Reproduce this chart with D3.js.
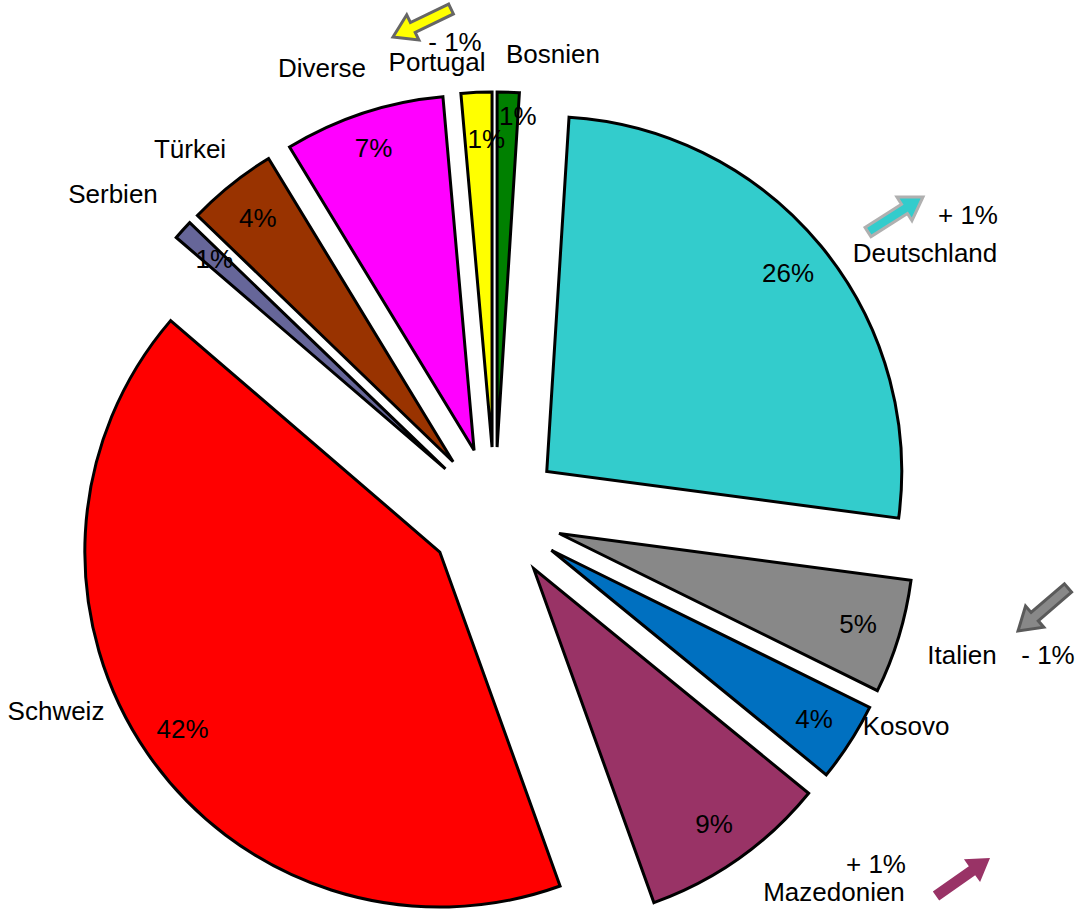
<!DOCTYPE html>
<html>
<head>
<meta charset="utf-8">
<script src="https://cdn.jsdelivr.net/npm/d3@7"></script>
<style>
  body { margin: 0; background: #fff; }
  svg text { font-family: "Liberation Sans", Arial, sans-serif; fill: #000; }
</style>
</head>
<body>
<div id="chart"></div>
<script>
// Anteile (Prozent), im Uhrzeigersinn ab 12 Uhr
var categories = ["Bosnien", "Deutschland", "Italien", "Kosovo", "Mazedonien",
                  "Schweiz", "Serbien", "Türkei", "Diverse", "Portugal"];
var values = [1.0, 26.1, 5.2, 3.6, 8.6, 41.8, 0.9, 4.1, 7.3, 1.4];
var colors = ["#008000", "#33cccc", "#888888", "#0070c0", "#993366",
              "#ff0000", "#666699", "#993300", "#ff00ff", "#ffff00"];
var changes = ["", "+ 1%", "- 1%", "", "+ 1%", "", "", "", "", "- 1%"];

var width = 1079,
    height = 913;

var svg = d3.select('#chart')
            .append('svg')
            .attr('width', width)
            .attr('height', height);

var cx = 495, cy = 514,
    radius = 355,
    explode = 67,
    fontSize = 26;

var pie = d3.pie().sort(null).startAngle(0).value(function(d) { return d; });
var arc = d3.arc().innerRadius(0).outerRadius(radius);
var arcs = pie(values);

function dir(d) {
  var a = (d.startAngle + d.endAngle) / 2;
  return [Math.sin(a), -Math.cos(a)];
}

// kleine Verschiebungen der Prozentwerte bei den schmalen Stücken
var pctNudge = { "Bosnien": [11, -19], "Portugal": [8, 4], "Diverse": [-3, -6] };

var g = svg.append('g').attr('transform', 'translate(' + cx + ',' + cy + ')');

var slices = g.selectAll('.slice')
  .data(arcs)
  .enter()
  .append('g')
  .attr('class', 'slice')
  .attr('transform', function(d) {
    var u = dir(d);
    return 'translate(' + (u[0] * explode) + ',' + (u[1] * explode) + ')';
  });

slices.append('path')
  .attr('d', arc)
  .style('fill', function(d, i) { return colors[i]; })
  .style('stroke', '#000')
  .style('stroke-width', 3)
  .style('stroke-linejoin', 'miter');

// Prozent-Beschriftung innerhalb der Stücke
slices.append('text')
  .attr('x', function(d, i) {
    var n = pctNudge[categories[i]] || [0, 0];
    return dir(d)[0] * radius * 0.88 + n[0];
  })
  .attr('y', function(d, i) {
    var n = pctNudge[categories[i]] || [0, 0];
    return dir(d)[1] * radius * 0.88 + n[1];
  })
  .attr('text-anchor', 'middle')
  .attr('dominant-baseline', 'central')
  .style('font-size', fontSize + 'px')
  .text(function(d) { return Math.round(d.value) + '%'; });

// Kategorienamen (manuell platziert wie im Original)
var labelPos = {
  "Bosnien":     [553, 63],
  "Deutschland": [925, 262],
  "Italien":     [962, 664],
  "Kosovo":      [906, 735],
  "Mazedonien":  [834, 901],
  "Schweiz":     [56, 720],
  "Serbien":     [113, 203],
  "Türkei":      [190, 158],
  "Diverse":     [322, 77],
  "Portugal":    [437, 71]
};
var changePos = {
  "Deutschland": [968, 224],
  "Italien":     [1048, 664],
  "Mazedonien":  [876, 873],
  "Portugal":    [455, 51]
};

svg.selectAll('.cat')
  .data(categories)
  .enter()
  .append('text')
  .attr('class', 'cat')
  .attr('x', function(d) { return labelPos[d][0]; })
  .attr('y', function(d) { return labelPos[d][1]; })
  .attr('text-anchor', 'middle')
  .style('font-size', fontSize + 'px')
  .text(function(d) { return d; });

svg.selectAll('.chg')
  .data(categories.filter(function(d, i) { return changes[i] != ''; }))
  .enter()
  .append('text')
  .attr('class', 'chg')
  .attr('x', function(d) { return changePos[d][0]; })
  .attr('y', function(d) { return changePos[d][1]; })
  .attr('text-anchor', 'middle')
  .style('font-size', fontSize + 'px')
  .text(function(d) { return changes[categories.indexOf(d)]; });

// Blockpfeile für Veränderungen: [Schaft-Ende, Spitze]
var arrows = {
  "Deutschland": { from: [868, 232], to: [923, 197], stroke: "#b0b0b0" },
  "Italien":     { from: [1068, 588], to: [1018, 631], stroke: "#5a5a5a" },
  "Mazedonien":  { from: [936, 896], to: [990, 858], stroke: "none" },
  "Portugal":    { from: [451, 9], to: [393, 37], stroke: "#666666" }
};

function arrowPath(a) {
  var dx = a.to[0] - a.from[0], dy = a.to[1] - a.from[1];
  var len = Math.sqrt(dx * dx + dy * dy);
  var ux = dx / len, uy = dy / len, nx = -uy, ny = ux;
  var shaft = 5.5, head = 14, headLen = 22;
  var bx = a.to[0] - ux * headLen, by = a.to[1] - uy * headLen;
  var pts = [
    [a.from[0] + nx * shaft, a.from[1] + ny * shaft],
    [bx + nx * shaft, by + ny * shaft],
    [bx + nx * head, by + ny * head],
    a.to,
    [bx - nx * head, by - ny * head],
    [bx - nx * shaft, by - ny * shaft],
    [a.from[0] - nx * shaft, a.from[1] - ny * shaft]
  ];
  return d3.line()(pts) + 'Z';
}

svg.selectAll('.arrow')
  .data(Object.keys(arrows))
  .enter()
  .append('path')
  .attr('class', 'arrow')
  .attr('d', function(d) { return arrowPath(arrows[d]); })
  .style('fill', function(d) { return colors[categories.indexOf(d)]; })
  .style('stroke', function(d) { return arrows[d].stroke; })
  .style('stroke-width', 3)
  .style('stroke-linejoin', 'miter');
</script>
</body>
</html>
